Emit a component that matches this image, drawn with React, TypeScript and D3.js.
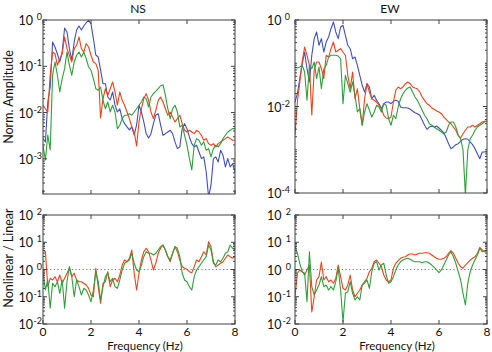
import * as d3 from 'd3';
import { useEffect, useRef } from 'react';

// Frequency samples (Hz)
const freq = [
    0, 0.1, 0.2, 0.3, 0.4, 0.5, 0.6, 0.7, 0.8, 0.9,
    1, 1.1, 1.2, 1.3, 1.4, 1.5, 1.6, 1.7, 1.8, 1.9,
    2, 2.1, 2.2, 2.3, 2.4, 2.5, 2.6, 2.7, 2.8, 2.9,
    3, 3.1, 3.2, 3.3, 3.4, 3.5, 3.6, 3.7, 3.8, 3.9,
    4, 4.1, 4.2, 4.3, 4.4, 4.5, 4.6, 4.7, 4.8, 4.9,
    5, 5.1, 5.2, 5.3, 5.4, 5.5, 5.6, 5.7, 5.8, 5.9,
    6, 6.1, 6.2, 6.3, 6.4, 6.5, 6.6, 6.7, 6.8, 6.9,
    7, 7.1, 7.2, 7.3, 7.4, 7.5, 7.6, 7.7, 7.8, 7.9,
    8,
];

// NS normalised amplitude
const nsBlue = [
    0.00273, 0.00232, 0.0169, 0.0357, 0.335, 0.261, 0.184, 0.124, 0.204, 0.67,
    0.55, 0.24, 0.137, 0.335, 0.608, 0.742, 0.608, 0.742, 0.874, 0.98,
    0.832, 0.394, 0.175, 0.159, 0.083, 0.042, 0.042, 0.0217, 0.0187, 0.0279,
    0.0146, 0.0103, 0.012, 0.0074, 0.00575, 0.00489, 0.00421, 0.00489, 0.00328, 0.0054,
    0.0144, 0.0103, 0.00627, 0.0035, 0.00283, 0.0035, 0.00575, 0.00887, 0.00946, 0.0054,
    0.00323, 0.0035, 0.00381, 0.00415, 0.0035, 0.00232, 0.00166, 0.00181, 0.00449, 0.00575,
    0.00449, 0.00297, 0.00213, 0.00181, 0.00197, 0.00141, 0.00101, 0.0011, 0.00052, 0.00015,
    0.000273, 0.00101, 0.0011, 0.000857, 0.00153, 0.0012, 0.000668, 0.00101, 0.000668, 0.000787,
    0.00052,
];
const nsRed = [
    0.0144, 0.0121, 0.0103, 0.0649, 0.204, 0.187, 0.105, 0.146, 0.187, 0.43,
    0.24, 0.173, 0.124, 0.24, 0.284, 0.43, 0.24, 0.204, 0.308, 0.261,
    0.173, 0.124, 0.114, 0.082, 0.00764, 0.02, 0.0328, 0.0236, 0.0328, 0.0458,
    0.0279, 0.0144, 0.0279, 0.0184, 0.0144, 0.0103, 0.0074, 0.00489, 0.00381, 0.0019,
    0.00627, 0.0121, 0.02, 0.0256, 0.0184, 0.0103, 0.0074, 0.0112, 0.0184, 0.0217,
    0.0169, 0.0121, 0.00874, 0.0103, 0.00803, 0.00627, 0.0074, 0.00874, 0.00575, 0.00415,
    0.00381, 0.00415, 0.00381, 0.0035, 0.00415, 0.00381, 0.00323, 0.00252, 0.00273, 0.00213,
    0.00197, 0.00213, 0.00181, 0.00213, 0.00232, 0.00252, 0.00273, 0.00297, 0.00273, 0.00252,
    0.00252,
];
const nsGreen = [
    0.00197, 0.000946, 0.00328, 0.00156, 0.0649, 0.124, 0.064, 0.0279, 0.054, 0.0888,
    0.204, 0.105, 0.064, 0.124, 0.173, 0.204, 0.159, 0.204, 0.146, 0.0966,
    0.082, 0.054, 0.0328, 0.0303, 0.0357, 0.0184, 0.0121, 0.0169, 0.0103, 0.0144,
    0.0103, 0.00449, 0.00532, 0.0074, 0.00874, 0.00874, 0.00946, 0.00874, 0.0103, 0.0121,
    0.0144, 0.0169, 0.0217, 0.02, 0.0132, 0.0217, 0.0256, 0.0288, 0.0328, 0.038,
    0.04, 0.0236, 0.0121, 0.0074, 0.0121, 0.0144, 0.0103, 0.00489, 0.00532, 0.00323,
    0.00197, 0.00101, 0.000575, 0.00197, 0.00273, 0.00252, 0.00197, 0.00232, 0.00153, 0.00166,
    0.0011, 0.00166, 0.00197, 0.00181, 0.00213, 0.00273, 0.00323, 0.00381, 0.00415, 0.00449,
    0.00449,
];

// EW normalised amplitude
const ewBlue = [
    0.0127, 0.0198, 0.044, 0.0977, 0.182, 0.0748, 0.0368, 0.153, 0.37, 0.528,
    0.26, 0.37, 0.182, 0.31, 0.405, 0.629, 0.9, 0.528, 0.37, 0.689,
    0.754, 0.443, 0.26, 0.217, 0.127, 0.139, 0.0897, 0.0527, 0.0309, 0.0216,
    0.0337, 0.0282, 0.0151, 0.0182, 0.0139, 0.0116, 0.0089, 0.0116, 0.0127, 0.0127,
    0.0116, 0.0132, 0.0139, 0.0132, 0.00973, 0.00938, 0.00938, 0.00923, 0.00861, 0.00787,
    0.00719, 0.00682, 0.00626, 0.0048, 0.00368, 0.00297, 0.00336, 0.00348, 0.00336, 0.00354,
    0.00318, 0.00282, 0.00248, 0.00187, 0.00138, 0.00106, 0.00116, 0.00131, 0.00138, 0.00157,
    0.00175, 0.0018, 0.00175, 0.00151, 0.00131, 0.00106, 0.00081, 0.00062, 0.000887, 0.000887,
    0.0009,
];
const ewRed = [
    0.00219, 0.0127, 0.0368, 0.107, 0.238, 0.153, 0.0897, 0.00636, 0.0698, 0.107,
    0.107, 0.0748, 0.044, 0.153, 0.139, 0.217, 0.31, 0.182, 0.199, 0.217,
    0.182, 0.153, 0.0527, 0.0258, 0.0628, 0.0151, 0.0258, 0.0089, 0.00368, 0.0151,
    0.0337, 0.0216, 0.0151, 0.0139, 0.0127, 0.0107, 0.0089, 0.00626, 0.00542, 0.00522,
    0.00572, 0.0127, 0.0237, 0.0282, 0.0258, 0.0282, 0.0337, 0.0368, 0.0337, 0.0282,
    0.0268, 0.0258, 0.0216, 0.0166, 0.0139, 0.0116, 0.0107, 0.00923, 0.00861, 0.00787,
    0.00746, 0.00682, 0.00572, 0.00506, 0.00438, 0.004, 0.00336, 0.00282, 0.00216, 0.00187,
    0.00235, 0.00282, 0.00336, 0.00336, 0.00368, 0.00336, 0.00368, 0.004, 0.00438, 0.00455,
    0.00462,
];
const ewGreen = [
    0.0819, 0.0777, 0.0819, 0.0897, 0.0628, 0.0139, 0.0897, 0.0748, 0.107, 0.044,
    0.0819, 0.0258, 0.0748, 0.0897, 0.139, 0.153, 0.153, 0.153, 0.147, 0.127,
    0.0116, 0.0527, 0.0337, 0.0216, 0.0368, 0.0182, 0.00746, 0.0089, 0.00368, 0.00746,
    0.0116, 0.00817, 0.00572, 0.00746, 0.0107, 0.00973, 0.00746, 0.0116, 0.0107, 0.00522,
    0.00368, 0.00626, 0.00522, 0.00973, 0.0151, 0.0198, 0.0237, 0.0268, 0.0282, 0.0216,
    0.0166, 0.0139, 0.0107, 0.00817, 0.00626, 0.00522, 0.004, 0.00368, 0.00336, 0.00307,
    0.00282, 0.00257, 0.00235, 0.00257, 0.00368, 0.00438, 0.00438, 0.00336, 0.00216, 0.0018,
    0.000987, 0.00009, 0.000987, 0.0018, 0.00216, 0.00282, 0.00336, 0.00368, 0.004, 0.00438,
    0.00462,
];

// Nonlinear / linear ratios
const nsRatioRed = [
    5.2, 4.5, 0.234, 0.475, 0.412, 0.545, 0.357, 0.628, 0.312, 0.475,
    0.726, 1.11, 0.545, 0.726, 0.412, 0.357, 0.357, 0.312, 0.27, 0.204,
    0.116, 0.1, 1.11, 0.234, 0.0575, 0.312, 0.357, 0.83, 0.234, 0.412,
    0.475, 0.357, 0.628, 1.46, 2.23, 1.93, 2.58, 5.2, 0.726, 0.177,
    0.726, 2.23, 4.5, 6.0, 4.5, 2.23, 0.96, 1.69, 3.93, 6.0,
    7.9, 5.2, 2.95, 1.93, 3.93, 6.9, 4.5, 2.23, 1.27, 1.11,
    1.02, 0.83, 0.764, 1.27, 2.23, 1.93, 2.95, 4.5, 3.4, 10.5,
    6.9, 1.93, 1.27, 1.46, 1.69, 1.93, 2.58, 3.4, 2.95, 2.58,
    2.95,
];
const nsRatioGreen = [
    0.83, 0.177, 0.412, 0.0377, 0.312, 0.234, 0.357, 0.134, 0.412, 0.0377,
    0.357, 1.27, 0.545, 0.1, 0.412, 0.234, 0.116, 0.204, 0.177, 0.116,
    0.0658, 0.177, 0.83, 0.357, 0.076, 0.234, 0.545, 0.726, 0.357, 0.475,
    0.234, 0.204, 0.412, 0.96, 1.69, 1.93, 2.23, 3.93, 1.69, 0.96,
    0.83, 1.46, 2.95, 4.5, 3.93, 3.93, 3.4, 3.93, 5.2, 6.9,
    7.9, 5.2, 2.95, 2.23, 3.93, 6.9, 6.0, 2.95, 0.726, 0.412,
    0.357, 0.234, 0.177, 0.545, 0.96, 1.27, 1.69, 2.23, 2.95, 7.9,
    5.2, 1.69, 1.46, 2.23, 1.93, 2.58, 3.93, 4.5, 7.9, 6.0,
    5.2,
];
const ewRatioRed = [
    0.1, 0.726, 0.96, 0.83, 0.628, 0.96, 1.46, 0.0275, 0.1, 0.412,
    0.545, 1.88, 0.412, 0.545, 0.357, 0.412, 0.312, 0.475, 1.46, 0.545,
    0.204, 0.177, 0.27, 0.628, 0.177, 0.1, 0.134, 0.177, 0.27, 0.357,
    0.475, 0.83, 1.11, 1.93, 2.23, 1.69, 1.27, 0.628, 0.412, 0.357,
    0.412, 1.11, 1.69, 2.1, 2.58, 2.8, 2.95, 3.4, 3.7, 3.7,
    3.4, 3.7, 3.93, 3.93, 4.1, 4.1, 3.93, 3.4, 2.95, 2.58,
    2.37, 2.37, 2.58, 2.95, 3.93, 4.9, 3.93, 2.58, 1.69, 1.27,
    1.11, 1.46, 1.78, 2.23, 2.58, 2.95, 3.93, 6.5, 5.2, 4.5,
    4.9,
];
const ewRatioGreen = [
    6.9, 3.93, 1.69, 0.83, 0.726, 0.0658, 4.5, 0.234, 0.116, 0.177,
    0.27, 0.545, 0.234, 0.27, 0.177, 0.234, 0.177, 0.357, 1.11, 0.177,
    0.0118, 0.134, 0.153, 0.357, 0.134, 0.076, 0.1, 0.076, 0.27, 0.312,
    0.412, 0.204, 0.83, 1.69, 1.93, 0.96, 1.46, 1.69, 0.628, 0.312,
    0.357, 0.545, 0.96, 1.46, 1.93, 2.23, 2.43, 2.58, 2.37, 2.1,
    1.93, 1.93, 1.93, 1.78, 1.93, 1.93, 1.69, 1.46, 1.2, 0.96,
    0.764, 0.96, 1.46, 2.23, 3.4, 4.5, 2.95, 1.69, 0.83, 0.412,
    0.134, 0.0498, 0.312, 0.83, 1.46, 2.23, 3.4, 6.0, 4.5, 4.9,
    5.2,
];

// Tick values
const xTicks = [0, 2, 4, 6, 8];
const nsTicks = [1, 0.1, 0.01, 0.001];
const ewTicks = [1, 0.01, 0.0001];
const ratioTicks = [100, 10, 1, 0.1, 0.01];

const BLUE = '#3f4fc0';
const RED = '#f2401c';
const GREEN = '#2f9f3b';
const AXIS = '#404040';
const FONT = 'Lato, "Noto Sans", sans-serif';

const App = () => {
    const ref = useRef<SVGSVGElement>(null);

    useEffect(() => {
        const svg = d3.select(ref.current);
        svg.selectAll('*').remove();

        const panels = [
            { id: 'ns', left: 43, right: 235, top: 20, bottom: 194, domain: [1.74e-4, 1], ticks: nsTicks,
              labStart: 24.5, expEnd: 1, series: [[nsBlue, BLUE], [nsRed, RED], [nsGreen, GREEN]],
              title: 'NS', ratio: false },
            { id: 'ew', left: 295, right: 487, top: 20, bottom: 193, domain: [1e-4, 1], ticks: ewTicks,
              labStart: 28, expEnd: 5, series: [[ewBlue, BLUE], [ewRed, RED], [ewGreen, GREEN]],
              title: 'EW', ratio: false },
            { id: 'nsr', left: 43, right: 235, top: 215, bottom: 324, domain: [0.01, 100], ticks: ratioTicks,
              labStart: 24.5, expEnd: 1, series: [[nsRatioRed, RED], [nsRatioGreen, GREEN]],
              title: '', ratio: true },
            { id: 'ewr', left: 295, right: 487, top: 215, bottom: 324, domain: [0.01, 100], ticks: ratioTicks,
              labStart: 28, expEnd: 4, series: [[ewRatioRed, RED], [ewRatioGreen, GREEN]],
              title: '', ratio: true },
        ];

        panels.forEach((p) => {
            const x = d3.scaleLinear().domain([0, 8]).range([p.left, p.right]);
            const y = d3.scaleLog().domain(p.domain).range([p.bottom, p.top]);
            const g = svg.append('g');

            // Clip region
            svg.append('clipPath')
                .attr('id', `clip-${p.id}`)
                .append('rect')
                .attr('x', p.left)
                .attr('y', p.top)
                .attr('width', p.right - p.left)
                .attr('height', p.bottom - p.top);

            // Reference line at 1
            if (p.ratio) {
                g.append('line')
                    .attr('x1', p.left)
                    .attr('x2', p.right)
                    .attr('y1', y(1))
                    .attr('y2', y(1))
                    .attr('stroke', '#777')
                    .attr('stroke-width', 1)
                    .attr('stroke-dasharray', '1.2,2.4');
            }

            // Curves
            const line = d3.line<number>()
                .x((d, i) => x(freq[i]))
                .y((d) => y(d));
            const lines = g.append('g').attr('clip-path', `url(#clip-${p.id})`);
            p.series.forEach(([vals, color]) => {
                lines.append('path')
                    .attr('d', line(vals as number[]))
                    .attr('fill', 'none')
                    .attr('stroke', color as string)
                    .attr('stroke-width', 1.1)
                    .attr('stroke-linejoin', 'round');
            });

            // Frame
            g.append('rect')
                .attr('x', p.left)
                .attr('y', p.top)
                .attr('width', p.right - p.left)
                .attr('height', p.bottom - p.top)
                .attr('fill', 'none')
                .attr('stroke', AXIS)
                .attr('stroke-width', 1);

            // X ticks (inward, top and bottom)
            xTicks.forEach((t) => {
                g.append('line').attr('x1', x(t)).attr('x2', x(t))
                    .attr('y1', p.bottom).attr('y2', p.bottom - 4).attr('stroke', AXIS);
                g.append('line').attr('x1', x(t)).attr('x2', x(t))
                    .attr('y1', p.top).attr('y2', p.top + 4).attr('stroke', AXIS);
            });

            // Y minor ticks
            const lo = Math.floor(Math.log10(p.domain[0]));
            const hi = Math.ceil(Math.log10(p.domain[1]));
            for (let k = lo; k < hi; k++) {
                for (let m = 1; m <= 9; m++) {
                    const v = m * Math.pow(10, k);
                    if (v < p.domain[0] || v > p.domain[1]) continue;
                    if (p.ticks.some((t) => Math.abs(t - v) / v < 1e-6)) continue;
                    const yy = y(v);
                    g.append('line').attr('x1', p.left).attr('x2', p.left + 2)
                        .attr('y1', yy).attr('y2', yy).attr('stroke', AXIS);
                    g.append('line').attr('x1', p.right).attr('x2', p.right - 2)
                        .attr('y1', yy).attr('y2', yy).attr('stroke', AXIS);
                }
            }

            // Y major ticks and labels
            p.ticks.forEach((t) => {
                const yy = y(t);
                g.append('line').attr('x1', p.left).attr('x2', p.left + 4)
                    .attr('y1', yy).attr('y2', yy).attr('stroke', AXIS);
                g.append('line').attr('x1', p.right).attr('x2', p.right - 4)
                    .attr('y1', yy).attr('y2', yy).attr('stroke', AXIS);
                g.append('text')
                    .attr('x', p.left - p.labStart)
                    .attr('y', yy + 5)
                    .style('font-family', FONT)
                    .style('font-size', '12.5px')
                    .attr('fill', '#111')
                    .text('10');
                g.append('text')
                    .attr('x', p.left - p.expEnd)
                    .attr('y', yy)
                    .attr('text-anchor', 'end')
                    .style('font-family', FONT)
                    .style('font-size', '9px')
                    .attr('fill', '#111')
                    .text(String(Math.round(Math.log10(t))));
            });

            // Title
            if (p.title) {
                g.append('text')
                    .attr('x', (p.left + p.right) / 2 - 1)
                    .attr('y', 12.5)
                    .attr('text-anchor', 'middle')
                    .style('font-family', FONT)
                    .style('font-size', '12px')
                    .attr('fill', '#111')
                    .text(p.title);
            }

            // X labels on bottom panels
            if (p.ratio) {
                xTicks.forEach((t) => {
                    g.append('text')
                        .attr('x', x(t))
                        .attr('y', 336)
                        .attr('text-anchor', 'middle')
                        .style('font-family', FONT)
                        .style('font-size', '12px')
                        .attr('fill', '#111')
                        .text(String(t));
                });
                g.append('text')
                    .attr('x', (p.left + p.right) / 2 + 6)
                    .attr('y', 350)
                    .attr('text-anchor', 'middle')
                    .style('font-family', FONT)
                    .style('font-size', '11.5px')
                    .attr('fill', '#111')
                    .text('Frequency (Hz)');
            }
        });

        // Y-axis titles
        svg.append('text')
            .attr('transform', 'translate(12.5, 97) rotate(-90)')
            .attr('text-anchor', 'middle')
            .style('font-family', FONT)
            .style('font-size', '12.5px')
            .attr('fill', '#111')
            .text('Norm. Amplitude');

        svg.append('text')
            .attr('transform', 'translate(12.5, 258) rotate(-90)')
            .attr('text-anchor', 'middle')
            .style('font-family', FONT)
            .style('font-size', '12.5px')
            .attr('fill', '#111')
            .text('Nonlinear / Linear');
    }, []);

    return (
        <svg
            ref={ref}
            width={492}
            height={352}
            style={{ position: 'absolute', left: 0, top: 0, background: '#fff' }}
        />
    );
};

export default App;
